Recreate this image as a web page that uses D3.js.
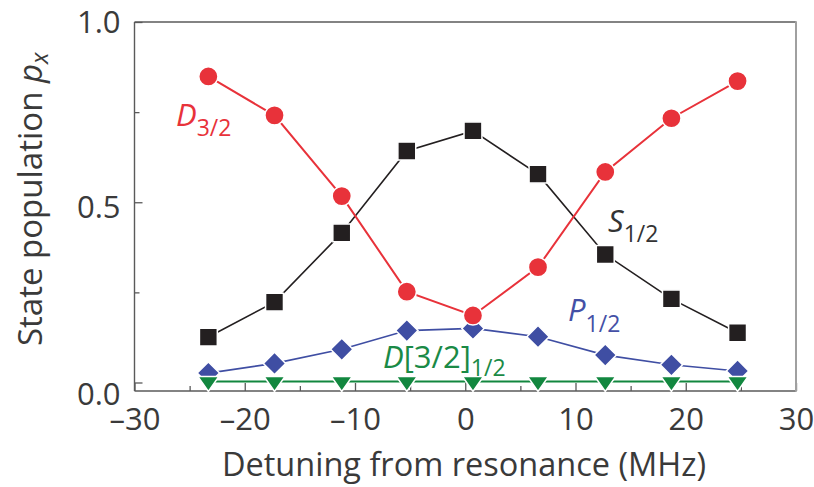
<!DOCTYPE html>
<html>
<head>
<meta charset="utf-8">
<script src="https://cdn.jsdelivr.net/npm/d3@7"></script>
<style>
  html, body { margin: 0; padding: 0; background: #fff; }
  svg { display: block; }
  text { font-family: "Open Sans", "Noto Sans", sans-serif; }
</style>
</head>
<body>
<svg id="chart" width="814" height="487"></svg>
<script>
// Detuning (MHz) at which each population was measured
const detuning = [-23.3, -17.3, -11.2, -5.3, 0.7, 6.6, 12.7, 18.7, 24.7];

// State populations p_x for each level
const popD32 = [0.849, 0.741, 0.517, 0.252, 0.186, 0.320, 0.584, 0.733, 0.836];
const popS12 = [0.126, 0.223, 0.415, 0.642, 0.698, 0.578, 0.355, 0.232, 0.138];
const popP12 = [0.026, 0.053, 0.092, 0.144, 0.150, 0.127, 0.076, 0.049, 0.032];
const popD3212 = [0.003, 0.003, 0.003, 0.003, 0.003, 0.003, 0.003, 0.003, 0.003];

// Axis ticks
const xTicks = [-30, -20, -10, 0, 10, 20, 30];
const xMinorTicks = [-25, -15, -5, 5, 15, 25];
const yTicks = [0.0, 0.5, 1.0];
const yMinorTicks = [0.25, 0.75];

const svg = d3.select("#chart");
const plot = { left: 134.5, right: 796, top: 22, bottom: 391 };

const x = d3.scaleLinear().domain([-30, 30]).range([plot.left, plot.right]);
const y = d3.scaleLinear().domain([-0.0236, 1.0]).range([plot.bottom, plot.top]);

const axisColor = "#5a5a5a";
const textColor = "#3a3a3a";

// Inward-pointing ticks on the left and bottom edges
const gx = svg.append("g").attr("transform", `translate(0,${plot.bottom})`);
gx.call(d3.axisBottom(x).tickValues(xTicks).tickSize(-8).tickPadding(20)
  .tickFormat(d => d < 0 ? "\u2013" + Math.abs(d) : String(d)));
gx.append("g").call(d3.axisBottom(x).tickValues(xMinorTicks).tickSize(-5).tickFormat(""));

const gy = svg.append("g").attr("transform", `translate(${plot.left},0)`);
gy.call(d3.axisLeft(y).tickValues(yTicks).tickSize(-8).tickPadding(14).tickFormat(d3.format(".1f")));
gy.append("g").call(d3.axisLeft(y).tickValues(yMinorTicks).tickSize(-5).tickFormat(""));

svg.selectAll(".domain").remove();
svg.selectAll(".tick line").attr("stroke", axisColor).attr("stroke-width", 1.3);
svg.selectAll(".tick text")
  .attr("fill", textColor)
  .style("font-size", "31px");
gx.selectAll(".tick text").attr("dy", "0.62em");
gy.selectAll(".tick text")
  .attr("dy", d => d === 0 ? "0.72em" : d === 0.5 ? "0.5em" : "0.33em");

// Plot frame
svg.append("line").attr("x1", plot.left).attr("x2", plot.right).attr("y1", plot.top).attr("y2", plot.top)
  .attr("stroke", axisColor).attr("stroke-width", 1.4);
svg.append("line").attr("x1", plot.left).attr("x2", plot.right).attr("y1", plot.bottom).attr("y2", plot.bottom)
  .attr("stroke", axisColor).attr("stroke-width", 1.4);
svg.append("line").attr("x1", plot.left).attr("x2", plot.left).attr("y1", plot.top).attr("y2", plot.bottom)
  .attr("stroke", axisColor).attr("stroke-width", 1.4);
svg.append("line").attr("x1", plot.right).attr("x2", plot.right).attr("y1", plot.top - 0.7).attr("y2", plot.bottom + 0.7)
  .attr("stroke", "#a0a0a0").attr("stroke-width", 2);

// Axis titles
svg.append("text")
  .attr("x", 464)
  .attr("y", 476)
  .attr("text-anchor", "middle")
  .attr("fill", textColor)
  .style("font-size", "32.5px")
  .text("Detuning from resonance (MHz)");

const yt = svg.append("text")
  .attr("transform", "translate(42,346) rotate(-90)")
  .attr("fill", textColor)
  .style("font-size", "33px");
yt.append("tspan").text("State population ");
yt.append("tspan").style("font-style", "italic").text("p");
yt.append("tspan").style("font-style", "italic").style("font-size", "24px").attr("dy", 6).text("x");

// Series
const triangleDown = (w, h) => {
  // centroid-centred downward triangle
  const t = -h / 3, b = 2 * h / 3;
  return `M${-w / 2},${t}L${w / 2},${t}L0,${b}Z`;
};

const series = [
  { name: "P12", values: popP12, color: "#3f4ea3", width: 1.6,
    marker: d3.symbol().type(d3.symbolSquare).size(250)(), rotate: 45 },
  { name: "D3212", values: popD3212, color: "#12873f", width: 2,
    marker: triangleDown(21, 15), rotate: 0 },
  { name: "S12", values: popS12, color: "#231f20", width: 1.6,
    marker: d3.symbol().type(d3.symbolSquare).size(320)(), rotate: 0 },
  { name: "D32", values: popD32, color: "#e8323a", width: 2,
    marker: d3.symbol().type(d3.symbolCircle).size(290)(), rotate: 0 }
];

const line = d3.line().x(d => x(d[0])).y(d => y(d[1]));

series.forEach(s => {
  const pts = detuning.map((dx, i) => [dx, s.values[i]]);
  const g = svg.append("g").attr("class", "series-" + s.name);
  g.append("path").datum(pts)
    .attr("d", line)
    .attr("fill", "none")
    .attr("stroke", s.color)
    .attr("stroke-width", s.width);
  g.selectAll("path.marker").data(pts).join("path")
    .attr("class", "marker")
    .attr("d", s.marker)
    .attr("transform", d => `translate(${x(d[0])},${y(d[1])}) rotate(${s.rotate})`)
    .attr("fill", s.color)
    .attr("stroke", "#fff")
    .attr("stroke-width", 1.5);
});

// Series labels
function label(px, py, color, parts) {
  const t = svg.append("text").attr("x", px).attr("y", py).attr("fill", color).style("font-size", "31px");
  parts.forEach(p => {
    const ts = t.append("tspan").text(p.text);
    if (p.italic) ts.style("font-style", "italic");
    if (p.sub) ts.style("font-size", "23px").attr("dy", p.dy);
  });
}
label(176, 126, "#e8323a", [{ text: "D", italic: true }, { text: "3/2", sub: true, dy: 10 }]);
label(608, 232, "#333333", [{ text: "S", italic: true }, { text: "1/2", sub: true, dy: 10 }]);
label(568, 321, "#4450a6", [{ text: "P", italic: true }, { text: "1/2", sub: true, dy: 11 }]);
label(383, 368, "#1a8a46", [{ text: "D", italic: true }, { text: "[3/2]" }, { text: "1/2", sub: true, dy: 8 }]);
</script>
</body>
</html>
